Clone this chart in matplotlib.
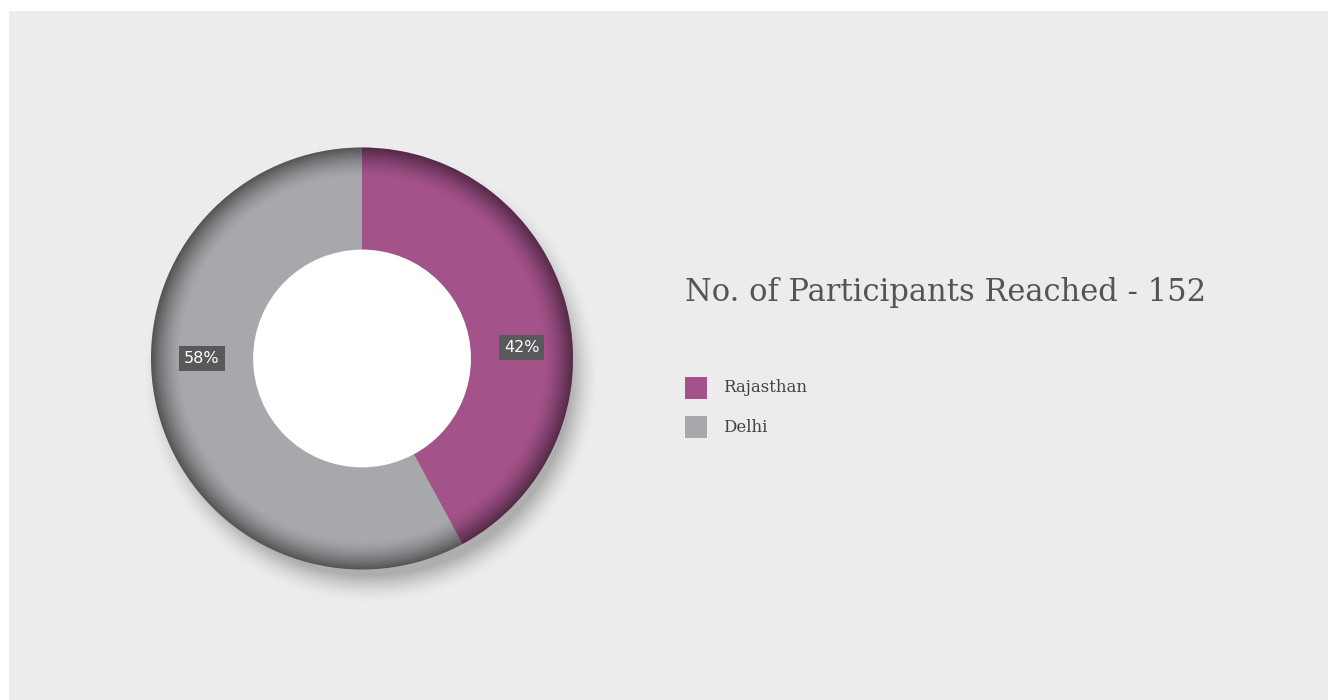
import matplotlib.pyplot as plt
import numpy as np
from matplotlib.patches import Rectangle, Circle

# Data
labels = ['Rajasthan', 'Delhi']
values = [64, 88]
colors = ['#a3528a', '#a7a8ab']
title = 'No. of Participants Reached - 152'

W, H = 1328, 700
fig = plt.figure(figsize=(W / 100, H / 100), dpi=100)
fig.patch.set_facecolor('white')

# grey panel with thin white margin on top/left
fig.add_artist(Rectangle((9 / W, 0), 1, 1 - 11 / H, transform=fig.transFigure,
                         facecolor='#ececec', edgecolor='none', zorder=0))

# donut axes: centre (362, 358.5) px, radius 211 px
R = 211
cx, cy = 362, 358.5
lim = 1.3
side = 2 * lim * R
ax = fig.add_axes([(cx - side / 2) / W, (H - cy - side / 2) / H, side / W, side / H])
ax.axis('off')

# soft drop shadow
g = np.linspace(-lim, lim, 600)
X, Y = np.meshgrid(g, g)
d = np.hypot(X - 0.04, Y + 0.08)
sh = np.clip(1 - (d - 0.95) / 0.13, 0, 1) ** 1.6 * 0.42
shadow = np.zeros((600, 600, 4))
shadow[..., :3] = 0.35
shadow[..., 3] = sh
ax.imshow(shadow, extent=(-lim, lim, -lim, lim), origin='lower', zorder=1)

inner = 0.516
wedges, _ = ax.pie(values, colors=colors, startangle=90, counterclock=False,
                   radius=1, wedgeprops=dict(width=1 - inner, edgecolor='none'))
for w in wedges:
    w.set_zorder(2)

# rim darkening
r = np.hypot(X, Y)
dark = np.zeros((600, 600, 4))
dark[..., 3] = np.clip((r - 0.86) / 0.14, 0, 1) ** 1.5 * 0.5
im = ax.imshow(dark, extent=(-lim, lim, -lim, lim), origin='lower', zorder=3)
im.set_clip_path(Circle((0, 0), 1, transform=ax.transData))

ax.add_patch(Circle((0, 0), inner, facecolor='white', edgecolor='none', zorder=4))

# percentage labels
total = sum(values)
rmid = (1 + inner) / 2
label_angles = [4, 180]
for v, a in zip(values, label_angles):
    t = np.deg2rad(a)
    ax.text(rmid * np.cos(t), rmid * np.sin(t), f'{round(v / total * 100)}%',
            ha='center', va='center', color='white', fontsize=11.5, zorder=5,
            bbox=dict(boxstyle='square,pad=0.3', facecolor='#58595b', edgecolor='none'))

ax.set_xlim(-lim, lim)
ax.set_ylim(-lim, lim)
ax.set_aspect('equal')

# title and legend
fig.text(685 / W, 1 - 293 / H, title, fontsize=22, color='#545456',
         family='DejaVu Serif', va='center', ha='left')
for i, (lab, c) in enumerate(zip(labels, colors)):
    yc = 388 + i * 39
    fig.add_artist(Rectangle((685 / W, 1 - (yc + 11) / H), 22 / W, 22 / H,
                             transform=fig.transFigure, facecolor=c, edgecolor='none'))
    fig.text(723 / W, 1 - yc / H, lab, fontsize=12, color='#444444',
             family='DejaVu Serif', va='center', ha='left')

fig.savefig('out.png', dpi=100)
